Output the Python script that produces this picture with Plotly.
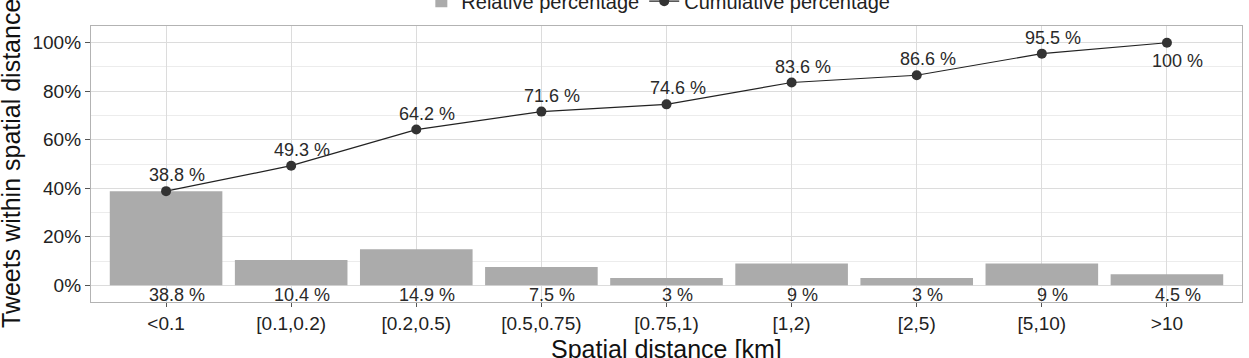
import plotly.graph_objects as go

categories = ["<0.1", "[0.1,0.2)", "[0.2,0.5)", "[0.5,0.75)", "[0.75,1)", "[1,2)", "[2,5)", "[5,10)", ">10"]
relative_pct = [38.8, 10.4, 14.9, 7.5, 3, 9, 3, 9, 4.5]
cumulative_pct = [38.8, 49.3, 64.2, 71.6, 74.6, 83.6, 86.6, 95.5, 100]
y_ticks = [0, 20, 40, 60, 80, 100]
x_title = "Spatial distance [km]"
y_title = "Tweets within spatial distance"

FONT = "Liberation Sans"
LABEL_COLOR = "#2a2a2a"

def fmt(v):
    return f"{v:g} %"

fig = go.Figure()
fig.add_trace(go.Bar(
    x=categories, y=relative_pct, name="Relative percentage",
    marker=dict(color="#ababab", line=dict(width=0)), width=0.9,
    hoverinfo="skip",
))
fig.add_trace(go.Scatter(
    x=categories, y=cumulative_pct, name="Cumulative percentage",
    mode="lines+markers",
    line=dict(color="#222222", width=1.2),
    marker=dict(color="#333333", size=10),
))

annotations = []
n = len(categories)
for i, (c, v) in enumerate(zip(categories, cumulative_pct)):
    last = i == n - 1
    annotations.append(dict(
        x=c, y=v, xref="x", yref="y", text=fmt(v), showarrow=False,
        xanchor="center", yanchor="middle", xshift=11, yshift=-18 if last else 16,
        font=dict(family=FONT, size=18, color=LABEL_COLOR),
    ))
for c, v in zip(categories, relative_pct):
    annotations.append(dict(
        x=c, y=0, xref="x", yref="y", text=fmt(v), showarrow=False,
        xanchor="center", yanchor="middle", xshift=11, yshift=-10,
        font=dict(family=FONT, size=18, color=LABEL_COLOR),
    ))
# axis titles
annotations.append(dict(
    x=0.5, y=0, xref="paper", yref="paper", text=x_title, showarrow=False,
    xanchor="center", yanchor="middle", yshift=-47,
    font=dict(family=FONT, size=25, color="#111111"),
))
annotations.append(dict(
    x=0, y=0.5, xref="paper", yref="paper", text=y_title, showarrow=False,
    xanchor="center", yanchor="middle", xshift=-80, textangle=-90,
    font=dict(family=FONT, size=25, color="#111111"),
))

fig.update_layout(
    width=1249, height=358,
    margin=dict(l=91, r=7, t=26, b=56, autoexpand=False),
    paper_bgcolor="white", plot_bgcolor="white",
    font=dict(family=FONT, color="#222222"),
    showlegend=True,
    legend=dict(orientation="h", x=0.287, xanchor="left", y=1.09, yanchor="middle",
                font=dict(family=FONT, size=20, color="#222222"),
                bgcolor="rgba(0,0,0,0)"),
    bargap=0.1,
    annotations=annotations,
)
fig.update_xaxes(
    type="category", range=[-0.6, 8.6],
    showgrid=True, gridcolor="#dcdcdc", gridwidth=1.3,
    showline=True, linecolor="#b3b3b3", linewidth=1.3, mirror=True,
    ticks="outside", ticklen=4, tickcolor="#555555", tickwidth=1,
    tickfont=dict(family=FONT, size=19, color="#222222"),
    zeroline=False,
)
fig.update_yaxes(
    range=[-6.9, 106.9],
    tickvals=y_ticks, ticktext=[f"{v}%" for v in y_ticks],
    showgrid=True, gridcolor="#dcdcdc", gridwidth=1.3,
    minor=dict(dtick=10, tick0=0, showgrid=True, gridcolor="#ececec", gridwidth=1),
    showline=True, linecolor="#b3b3b3", linewidth=1.3, mirror=True,
    ticks="outside", ticklen=5, tickcolor="#555555", tickwidth=1,
    tickfont=dict(family=FONT, size=19, color="#222222"),
    zeroline=False,
)

fig.write_html("out.html")
